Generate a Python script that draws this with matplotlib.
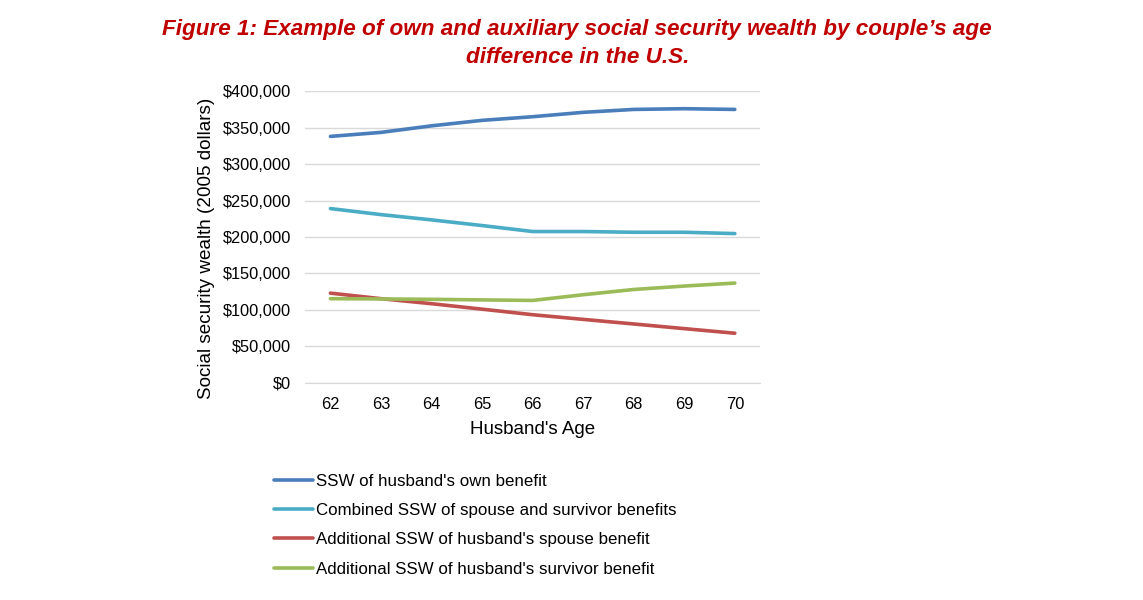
import matplotlib.pyplot as plt
from matplotlib.ticker import FuncFormatter

plt.rcParams['font.family'] = ['Liberation Sans', 'DejaVu Sans']

ages = [62, 63, 64, 65, 66, 67, 68, 69, 70]
own_benefit = [338000, 343500, 352500, 360000, 365000, 371000, 375000, 376000, 375000]
combined = [239000, 230700, 223500, 215700, 207500, 207500, 206500, 206500, 204700]
spouse = [123000, 115400, 108500, 101000, 93400, 87000, 80700, 74300, 68000]
survivor = [115400, 115000, 114500, 113700, 113000, 120800, 128000, 132700, 136800]

labels = [
    "SSW of husband's own benefit",
    "Combined SSW of spouse and survivor benefits",
    "Additional SSW of husband's spouse benefit",
    "Additional SSW of husband's survivor benefit",
]
colors = ['#4A7EBB', '#4BACC6', '#C0504D', '#9BBB59']

fig = plt.figure(figsize=(11.43, 6.0), dpi=100)
ax = fig.add_axes([0.267, 0.362, 0.398, 0.486])

for vals, lab, c in zip([own_benefit, combined, spouse, survivor], labels, colors):
    ax.plot(ages, vals, color=c, linewidth=2.6, label=lab, solid_capstyle='round')

ax.set_xlim(61.5, 70.5)
ax.set_ylim(0, 400000)
ax.set_xticks(ages)
ax.set_yticks(range(0, 400001, 50000))
ax.yaxis.set_major_formatter(FuncFormatter(lambda v, p: '${:,.0f}'.format(v)))
ax.grid(axis='y', color='#D9D9D9', linewidth=1)
ax.set_axisbelow(True)
for s in ['top', 'right', 'left']:
    ax.spines[s].set_visible(False)
ax.spines['bottom'].set_color('#D9D9D9')
ax.tick_params(axis='both', length=0, labelsize=11.8, colors='#000000')
ax.tick_params(axis='x', pad=10)
ax.tick_params(axis='y', pad=10)
ax.set_xlabel("Husband's Age", fontsize=13.5, labelpad=7)
ax.set_ylabel("Social security wealth (2005 dollars)", fontsize=13.6)
ax.yaxis.set_label_coords(-0.198, 0.462)

fig.text(0.505, 0.968, "Figure 1: Example of own and auxiliary social security wealth by couple\u2019s age\ndifference in the U.S.",
         ha='center', va='top', fontsize=16.2, color='#C00000', fontweight='bold', fontstyle='italic',
         linespacing=1.4)

fig.legend(loc='upper left', bbox_to_anchor=(0.2335, 0.222), frameon=False, fontsize=12.2,
           handlelength=2.35, handletextpad=0.15, labelspacing=0.85, borderaxespad=0)

fig.savefig('out.png', dpi=100)
